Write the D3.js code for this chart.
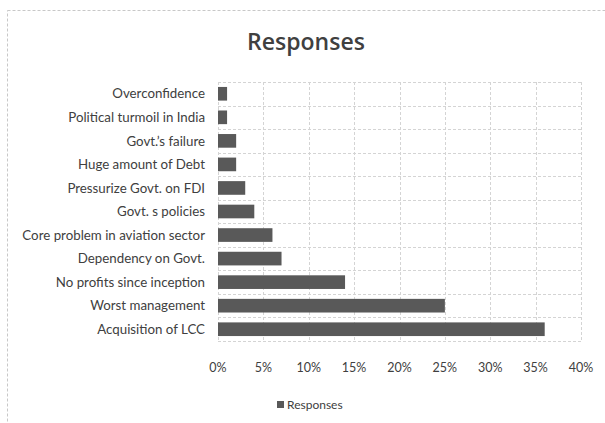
<!DOCTYPE html>
<html>
<head>
<meta charset="utf-8">
<script src="https://cdn.jsdelivr.net/npm/d3@7/dist/d3.min.js"></script>
<style>
  html, body { margin: 0; padding: 0; background: #fff; }
  svg { display: block; }
  text { font-family: Lato, "Open Sans", sans-serif; fill: #404040; }
</style>
</head>
<body>
<svg id="chart" width="605" height="423"></svg>
<script>
// Reasons cited, listed top to bottom
const categories = [
  "Overconfidence",
  "Political turmoil in India",
  "Govt.\u2019s failure",
  "Huge amount of Debt",
  "Pressurize Govt. on FDI",
  "Govt. s policies",
  "Core problem in aviation sector",
  "Dependency on Govt.",
  "No profits since inception",
  "Worst management",
  "Acquisition of LCC"
];
// Share of responses (%)
const responses = [1, 1, 2, 2, 3, 4, 6, 7, 14, 25, 36];
const xTicks = [0, 5, 10, 15, 20, 25, 30, 35, 40];
const seriesName = "Responses";

const svg = d3.select("#chart");
const W = 605, H = 423;
const plot = { left: 218, right: 581, top: 82, bottom: 341 };

// Outer chart border (runs past the right and bottom edges)
svg.append("rect")
  .attr("x", 7.5).attr("y", 10.5)
  .attr("width", W + 20).attr("height", H + 10)
  .attr("fill", "none")
  .attr("stroke", "#c8c8c8")
  .attr("stroke-dasharray", "3,2");

// Title
svg.append("text")
  .attr("x", 306).attr("y", 50)
  .attr("text-anchor", "middle")
  .style("font-size", "23px")
  .style("font-family", "'Open Sans', sans-serif")
  .style("font-weight", "600")
  .text(seriesName);

const x = d3.scaleLinear().domain([0, 40]).range([plot.left, plot.right]);
const y = d3.scaleBand().domain(categories).range([plot.top, plot.bottom]).paddingInner(0.42).paddingOuter(0.21);

// Vertical gridlines
svg.append("g").selectAll("line").data(xTicks).join("line")
  .attr("x1", d => Math.round(x(d)) + 0.5).attr("x2", d => Math.round(x(d)) + 0.5)
  .attr("y1", plot.top).attr("y2", plot.bottom)
  .attr("stroke", "#d4d4d4").attr("stroke-dasharray", "3,2");

// Horizontal gridlines at category boundaries
const step = (plot.bottom - plot.top) / categories.length;
svg.append("g").selectAll("line").data(d3.range(categories.length + 1)).join("line")
  .attr("x1", plot.left).attr("x2", plot.right)
  .attr("y1", d => Math.round(plot.top + d * step) + 0.5)
  .attr("y2", d => Math.round(plot.top + d * step) + 0.5)
  .attr("stroke", "#d4d4d4").attr("stroke-dasharray", "3,2");

// Bars
svg.append("g").selectAll("rect").data(categories).join("rect")
  .attr("x", x(0))
  .attr("y", d => y(d))
  .attr("width", (d, i) => x(responses[i]) - x(0))
  .attr("height", y.bandwidth())
  .attr("fill", "#595959");

// Category labels
svg.append("g").selectAll("text").data(categories).join("text")
  .attr("x", 205)
  .attr("y", d => y(d) + y.bandwidth() / 2)
  .attr("dy", "0.35em")
  .attr("text-anchor", "end")
  .style("font-size", "13.3px")
  .text(d => d);

// X axis tick labels
svg.append("g").selectAll("text").data(xTicks).join("text")
  .attr("x", d => x(d))
  .attr("y", 372)
  .attr("text-anchor", "middle")
  .style("font-size", "12.5px")
  .text(d => d + "%");

// Legend
svg.append("rect")
  .attr("x", 277).attr("y", 401).attr("width", 7).attr("height", 7)
  .attr("fill", "#595959");
svg.append("text")
  .attr("x", 287).attr("y", 408.5)
  .style("font-size", "12px")
  .text(seriesName);
</script>
</body>
</html>
